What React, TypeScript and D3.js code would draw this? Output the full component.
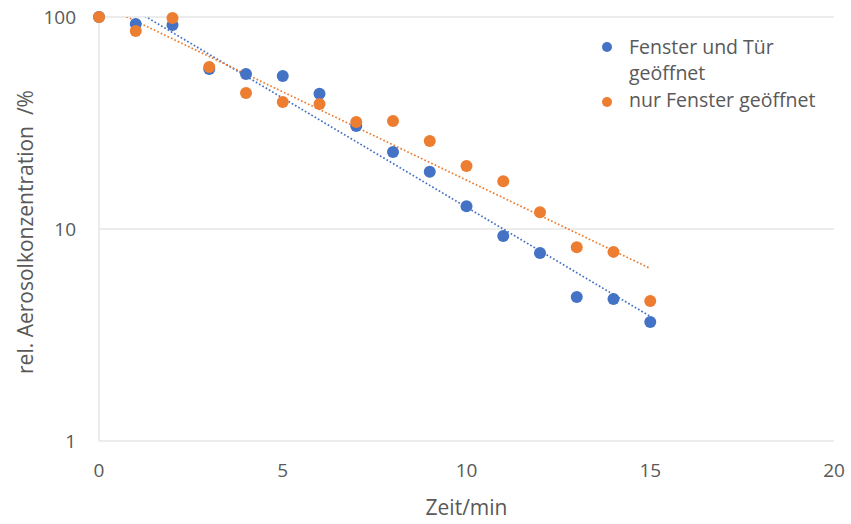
import React from 'react';
import * as d3 from 'd3';

const minutes = [0, 1, 2, 3, 4, 5, 6, 7, 8, 9, 10, 11, 12, 13, 14, 15];
const fensterUndTuer = [100, 92.7, 91.7, 56.9, 53.9, 52.7, 43.4, 30.6, 23.1, 18.6, 12.8, 9.26, 7.7, 4.78, 4.68, 3.64];
const nurFenster = [100, 85.9, 98.9, 58.1, 43.8, 39.7, 38.9, 32.0, 32.3, 26.0, 19.8, 16.8, 12.0, 8.2, 7.8, 4.57];
const xTicks = [0, 5, 10, 15, 20];
const yTicks = [1, 10, 100];

const series = [
  { name: 'Fenster und Tür geöffnet', lines: ['Fenster und Tür', 'geöffnet'], values: fensterUndTuer, color: '#4472C4' },
  { name: 'nur Fenster geöffnet', lines: ['nur Fenster geöffnet'], values: nurFenster, color: '#ED7D31' },
];

const W = 851;
const H = 524;
const margin = { left: 99, right: 17, top: 17, bottom: 83 };
const font = "'Open Sans', sans-serif";
const textColor = '#595959';

// exponential trendline like Excel: fit log10(y) = a + b*x
const fitExp = (xs: number[], ys: number[]) => {
  const ly = ys.map(v => Math.log10(v));
  const mx = d3.mean(xs)!;
  const my = d3.mean(ly)!;
  let num = 0, den = 0;
  xs.forEach((x, i) => { num += (x - mx) * (ly[i] - my); den += (x - mx) ** 2; });
  const b = num / den;
  const a = my - b * mx;
  return (x: number) => Math.pow(10, a + b * x);
};

const App: React.FC = () => {
  const x = d3.scaleLinear().domain([0, 20]).range([margin.left, W - margin.right]);
  const y = d3.scaleLog().domain([1, 100]).range([H - margin.bottom, margin.top]);
  const line = d3.line<number>().x(d => x(d));

  return (
    <svg width={W} height={H} style={{ position: 'absolute', left: 0, top: 0, background: '#fff' }}>
      <defs>
        <clipPath id="plot">
          <rect x={margin.left} y={margin.top} width={W - margin.left - margin.right} height={H - margin.top - margin.bottom} />
        </clipPath>
      </defs>
      {yTicks.map(t => (
        <g key={t}>
          <line x1={x(0)} x2={x(20)} y1={y(t)} y2={y(t)} stroke="#d9d9d9" strokeWidth={1} />
          <text x={76} y={y(t)} dy="0.36em" textAnchor="end" fontFamily={font} fontSize={19} fill={textColor}>{t}</text>
        </g>
      ))}
      <line x1={x(0)} x2={x(0)} y1={y(100)} y2={y(1)} stroke="#d9d9d9" strokeWidth={1} />
      {xTicks.map(t => (
        <text key={t} x={x(t)} y={477} textAnchor="middle" fontFamily={font} fontSize={19} fill={textColor}>{t}</text>
      ))}
      <text x={x(10)} y={515} textAnchor="middle" fontFamily={font} fontSize={21} fill={textColor}>Zeit/min</text>
      <text transform={`translate(33,${y(10) + 3}) rotate(-90)`} textAnchor="middle" fontFamily={font} fontSize={21}
        fill={textColor} style={{ whiteSpace: 'pre' }}>
        {'rel. Aerosolkonzentration  /%'}
      </text>
      <g clipPath="url(#plot)">
        {series.map(s => {
          const f = fitExp(minutes, s.values);
          const pts = d3.range(0, 15.01, 0.25);
          return (
            <path key={s.name} d={line.y(d => y(f(d)))(pts) || ''} fill="none" stroke={s.color}
              strokeWidth={1.7} strokeDasharray="1.7,2.1" />
          );
        })}
      </g>
      {series.map(s => (
        <g key={s.name}>
          {s.values.map((v, i) => (
            <circle key={i} cx={x(minutes[i])} cy={y(v)} r={6} fill={s.color} />
          ))}
        </g>
      ))}
      {series.map((s, si) => (
        <g key={s.name}>
          <circle cx={607} cy={si === 0 ? 47 : 102} r={5} fill={s.color} />
          {s.lines.map((l, li) => (
            <text key={li} x={629} y={si === 0 ? 54 + li * 26 : 107} fontFamily={font} fontSize={19.5} fill={textColor}>{l}</text>
          ))}
        </g>
      ))}
    </svg>
  );
};

export default App;
